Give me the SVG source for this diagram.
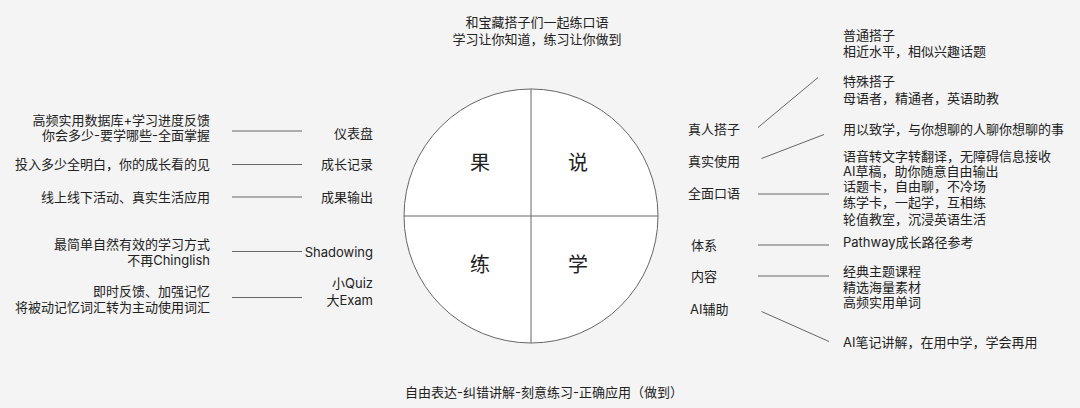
<svg xmlns="http://www.w3.org/2000/svg" width="1080" height="408" viewBox="0 0 1080 408">
<style>
text{font-family:Inter,"Noto Sans CJK SC",sans-serif;font-size:13px;fill:#222}
.r{text-anchor:end}
.m{text-anchor:middle}
.q{font-size:20px;text-anchor:middle}
.ln{stroke:#666;stroke-width:1;fill:none}
</style>
<rect width="1080" height="408" fill="#f4f4f4"/>
<g id="title">
<text class="m" x="537" y="27">和宝藏搭子们一起练口语</text>
<text class="m" x="537" y="44">学习让你知道，练习让你做到</text>
</g>
<g id="circle">
<circle cx="531" cy="216" r="127" fill="#fff" stroke="#666" stroke-width="1"/>
<line class="ln" x1="531" y1="89" x2="531" y2="343"/>
<line class="ln" x1="404" y1="216" x2="658" y2="216"/>
<text class="q" x="480" y="170">果</text>
<text class="q" x="578" y="170">说</text>
<text class="q" x="480" y="272">练</text>
<text class="q" x="578" y="272">学</text>
</g>
<g id="connectors">
<line class="ln" x1="232" y1="131" x2="302" y2="131"/>
<line class="ln" x1="232" y1="164.5" x2="302" y2="164.5"/>
<line class="ln" x1="232" y1="197" x2="302" y2="197"/>
<line class="ln" x1="232" y1="251.5" x2="302" y2="251.5"/>
<line class="ln" x1="232" y1="297.5" x2="302" y2="297.5"/>
<line class="ln" x1="758" y1="127.5" x2="818" y2="77.5"/>
<line class="ln" x1="761.5" y1="158.5" x2="824" y2="134.5"/>
<line class="ln" x1="758" y1="194" x2="829" y2="194"/>
<line class="ln" x1="758" y1="245" x2="829" y2="245"/>
<line class="ln" x1="758" y1="276" x2="829" y2="276"/>
<line class="ln" x1="761.5" y1="311.5" x2="829" y2="341.5"/>
</g>
<g id="n-dashboard">
<text class="r" x="373" y="138">仪表盘</text>
<text class="r" x="210" y="125">高频实用数据库+学习进度反馈</text>
<text class="r" x="210" y="140">你会多少-要学哪些-全面掌握</text>
</g>
<g id="n-growth">
<text class="r" x="373" y="169">成长记录</text>
<text class="r" x="210" y="169">投入多少全明白，你的成长看的见</text>
</g>
<g id="n-output">
<text class="r" x="373" y="202">成果输出</text>
<text class="r" x="210" y="202">线上线下活动、真实生活应用</text>
</g>
<g id="n-shadowing">
<text class="r" x="373" y="257">Shadowing</text>
<text class="r" x="210" y="249">最简单自然有效的学习方式</text>
<text class="r" x="210" y="265">不再Chinglish</text>
</g>
<g id="n-quiz">
<text class="r" x="373" y="288">小Quiz</text>
<text class="r" x="373" y="305">大Exam</text>
<text class="r" x="210" y="296">即时反馈、加强记忆</text>
<text class="r" x="210" y="312">将被动记忆词汇转为主动使用词汇</text>
</g>
<g id="n-partner">
<text x="688" y="134">真人搭子</text>
<text x="843" y="40">普通搭子</text>
<text x="843" y="56">相近水平，相似兴趣话题</text>
<text x="843" y="86">特殊搭子</text>
<text x="843" y="103">母语者，精通者，英语助教</text>
</g>
<g id="n-real">
<text x="688" y="166">真实使用</text>
<text x="843" y="134">用以致学，与你想聊的人聊你想聊的事</text>
<text x="843" y="160.5">语音转文字转翻译，无障碍信息接收</text>
<text x="843" y="176">AI草稿，助你随意自由输出</text>
</g>
<g id="n-speaking">
<text x="688" y="198">全面口语</text>
<text x="843" y="191">话题卡，自由聊，不冷场</text>
<text x="843" y="207">练学卡，一起学，互相练</text>
<text x="843" y="223.5">轮值教室，沉浸英语生活</text>
</g>
<g id="n-system">
<text x="691" y="249.5">体系</text>
<text x="843" y="247">Pathway成长路径参考</text>
</g>
<g id="n-content">
<text x="691" y="280.5">内容</text>
<text x="843" y="276">经典主题课程</text>
<text x="843" y="291.5">精选海量素材</text>
<text x="843" y="307">高频实用单词</text>
</g>
<g id="n-ai">
<text x="690" y="313.5">AI辅助</text>
<text x="843" y="347">AI笔记讲解，在用中学，学会再用</text>
</g>
<g id="footer">
<text class="m" x="544" y="397">自由表达-纠错讲解-刻意练习-正确应用（做到）</text>
</g>
</svg>
